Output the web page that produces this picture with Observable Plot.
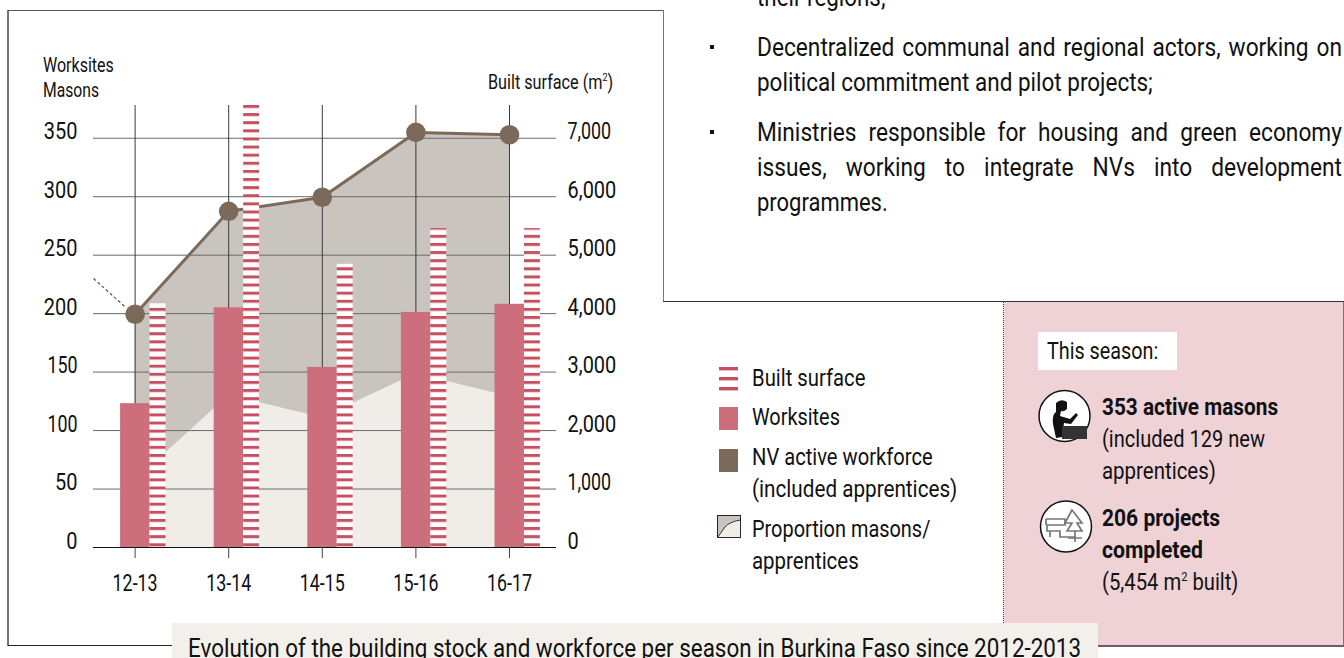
<!DOCTYPE html>
<html lang="en"><head><meta charset="utf-8">
<script src="https://cdn.jsdelivr.net/npm/d3@7"></script>
<script src="https://cdn.jsdelivr.net/npm/@observablehq/plot@0.6"></script>
<style>
html,body{margin:0;padding:0;background:#fff;width:1344px;height:658px;overflow:hidden}
#page{position:relative;width:1344px;height:658px;overflow:hidden;font-family:Roboto,sans-serif;color:#111}
#chart{position:absolute;left:0;top:0}
#chart svg{display:block}
.t{position:absolute;white-space:nowrap;transform-origin:0 50%}
.b{position:absolute}
sup{font-size:.55em;line-height:0}
</style></head><body><div id="page"><div id="chart"></div></div>
<script>
const seasons=["12-13","13-14","14-15","15-16","16-17"];
const worksites=[123,205,154,201,208];
const builtSurface=[4176,7560,4843,5454,5454];
const masons=[199.5,287.5,299.5,355,353];
const apprentices=[57,130,111,148.5,129];
const yTicks=[0,50,100,150,200,250,300,350];
const leaderX=[-0.444,-0.103];
const leaderY=[230,205.6];
const rows=seasons.map((s,i)=>({i,s,w:worksites[i],b:builtSurface[i]/20,m:masons[i],a:apprentices[i]}));
const page=document.getElementById("page");

const defs=()=>{const s=d3.create("svg:defs");
 const p=s.append("pattern").attr("id","stripes").attr("patternUnits","userSpaceOnUse").attr("width",20).attr("height",8.117).attr("patternTransform","translate(0,543.3)");
 p.append("rect").attr("width",20).attr("height",8.117).attr("fill","#fff");
 p.append("rect").attr("width",20).attr("height",3).attr("fill","#c64f60");
 return s.node();};

const plot=Plot.plot({width:1344,height:658,marginLeft:93,marginRight:788,marginTop:105,marginBottom:111,
 style:{fontFamily:"Roboto,sans-serif",fontSize:"23.5px",color:"#111",background:"transparent"},
 x:{type:"linear",domain:[0,4],range:[134.6,509]},
 y:{domain:[0,378],range:[547,105]},
 marks:[
  defs,
  Plot.areaY(rows,{x:"i",y:"m",fill:"#c9c4be"}),
  Plot.areaY(rows,{x:"i",y:"a",fill:"#f0ede8"}),
  Plot.ruleY(yTicks.slice(1),{stroke:"#6a6a6a",strokeWidth:1}),
  Plot.ruleX(rows,{x:"i",y1:0,y2:378,stroke:"#3a3a3a",strokeWidth:1}),
  Plot.lineY(rows,{x:"i",y:"m",stroke:"#7b6a5a",strokeWidth:3}),
  Plot.rectY(rows,{x1:d=>d.i-0.155,x2:d=>d.i+0.16,y1:0,y2:"w",fill:"#cc6e7b"}),
  Plot.rectY(rows,{x1:d=>d.i+0.16,x2:d=>d.i+0.33,y1:0,y2:"b",fill:"url(#stripes)"}),
  Plot.ruleY([0],{stroke:"#111",strokeWidth:1.2}),
  Plot.link([0],{x1:()=>leaderX[0],x2:()=>leaderX[1],y1:()=>leaderY[0],y2:()=>leaderY[1],stroke:"#5f5145",strokeWidth:1.2,strokeDasharray:"3,2.5"}),
  Plot.dot(rows,{x:"i",y:"m",r:9.8,fill:"#7b6a5a"}),
  Plot.axisY(yTicks,{anchor:"left",tickSize:0,tickPadding:16,dy:-6.5,label:null}),
  Plot.axisY(yTicks,{anchor:"right",tickSize:0,tickPadding:11,dy:-6.5,label:null,tickFormat:d=>d3.format(",")(d*20)}),
  Plot.axisX(rows.map(d=>d.i),{anchor:"bottom",tickSize:11,tickPadding:16,stroke:"#444",label:null,tickFormat:i=>seasons[i]})
 ]});
plot.querySelectorAll("text").forEach(t=>{const tr=t.getAttribute("transform")||"";const s=t.textContent;
 const sx=/^[17]/.test(s)?0.76:0.85;t.setAttribute("transform",tr+` scale(${sx},1)`);});
document.getElementById("chart").append(plot);

function box(l,t,w,h,bg,extra){const d=document.createElement("div");d.className="b";
 d.style.cssText=`left:${l}px;top:${t}px;width:${w}px;height:${h}px;background:${bg};${extra||""}`;page.append(d);return d;}
function txt(html,l,cy,w,size,opts={}){const d=document.createElement("div");d.className="t";d.innerHTML=html;
 d.style.cssText=`left:${l}px;top:${cy-size/2}px;font-size:${size}px;line-height:${size}px;font-weight:${opts.bold?700:400}`;
 page.append(d);
 if(opts.justify){const sx=opts.justify;d.style.width=(w/sx)+"px";d.style.whiteSpace="normal";d.style.textAlign="justify";d.style.textAlignLast="justify";d.style.transform=`scaleX(${sx})`;}
 else{d.style.transform=`scaleX(${w/d.offsetWidth})`;}
 return d;}
function svg(l,t,w,h,inner){const d=document.createElement("div");d.className="b";d.style.cssText=`left:${l}px;top:${t}px;width:${w}px;height:${h}px`;
 d.innerHTML=`<svg width="${w}" height="${h}" viewBox="0 0 ${w} ${h}" style="display:block">${inner}</svg>`;page.append(d);}

// frame
box(7,10,1.5,636,"#777");
box(8,10,656,1,"#555");
box(662.5,10,1.5,292,"#777");
box(663,301,681,1,"#333");
box(8,645,165,1,"#222");
// pink panel
box(1004,302,340,343,"#efd2d6");
box(1098,645,246,1.5,"#6f5a60");
box(1343,302,1,344,"#777");
box(1003,301,0,322,"transparent","border-left:1px dotted #333");
// axis titles
txt("Worksites",43,65,71,21);
txt("Masons",43,90,56,21);
txt("Built surface (m<sup>2</sup>)",488,82,125,21);
// top-right text
const SX=0.873;
txt("their regions;",757,-3,129,26);
box(710,45,3.5,4,"#111");
txt("Decentralized communal and regional actors, working on",757,47,585,26,{justify:SX});
txt("political commitment and pilot projects;",757,82,396,26);
box(710,130,3.5,4,"#111");
txt("Ministries responsible for housing and green economy",757,132,585,26,{justify:SX});
txt("issues, working to integrate NVs into development",757,167,585,26,{justify:SX});
txt("programmes.",757,202,131,26);
// legend
svg(715,364,28,180,`
<rect x="4" y="3" width="19" height="3.4" fill="#c64f60"/><rect x="4" y="13" width="19" height="3.4" fill="#c64f60"/><rect x="4" y="23" width="19" height="3.4" fill="#c64f60"/>
<rect x="4" y="43" width="19" height="23" fill="#cc6e7b"/>
<rect x="4" y="85" width="19" height="23" fill="#7b6a5a"/>
<rect x="2.5" y="151.5" width="23" height="22" fill="#c9c4be" stroke="#222"/>
<path d="M2.5 173.5L10 163Q14 158 25.5 156V173.5Z" fill="#f0ede8" stroke="#222" stroke-width=".9"/>`);
txt("Built surface",752,379,113,23.5);
txt("Worksites",752,418,88,23.5);
txt("NV active workforce",752,458,181,23.5);
txt("(included apprentices)",752,490,205,23.5);
txt("Proportion masons/",752,530,178,23.5);
txt("apprentices",752,562,107,23.5);
// panel contents
box(1038,332,139,38,"#fff");
txt("This season:",1047,352,111,23.5);
svg(1036,388,58,56,`<circle cx="28.5" cy="28" r="25.5" fill="#fff" stroke="#111" stroke-width="1.5"/>
<path d="M20 15Q25 10 31 14L31 21Q28 24 25 23L24 28L34 31L40 25L42 27L35 36L28 35L26 49L20 50L17 36Q16 26 20 24Z" fill="#111"/>
<rect x="26" y="38" width="25" height="13" fill="#333"/>`);
svg(1038,498,56,58,`<circle cx="28" cy="28.5" r="25.5" fill="#fff" stroke="#111" stroke-width="1.5"/>
<g fill="none" stroke="#777" stroke-width="1.7"><path d="M8 21H27V27H9V33H22V39H38M8 21V27M12 33V39"/><path d="M34 12L27 25L34 25L29 33H44L39 25L44 25ZM37 33V44M30 40H44"/></g>`);
txt("353 active masons",1102,408,176,23.5,{bold:true});
txt("(included 129 new",1102,440,163,23.5);
txt("apprentices)",1102,472,114,23.5);
txt("206 projects",1102,519,118,23.5,{bold:true});
txt("completed",1102,551,101,23.5,{bold:true});
txt("(5,454 m<sup>2</sup> built)",1102,583,136,23.5);
// caption
box(172,623,926,35,"#f3f0eb");
txt("Evolution of the building stock and workforce per season in Burkina Faso since 2012-2013",188,648,893,25);
</script></body></html>
